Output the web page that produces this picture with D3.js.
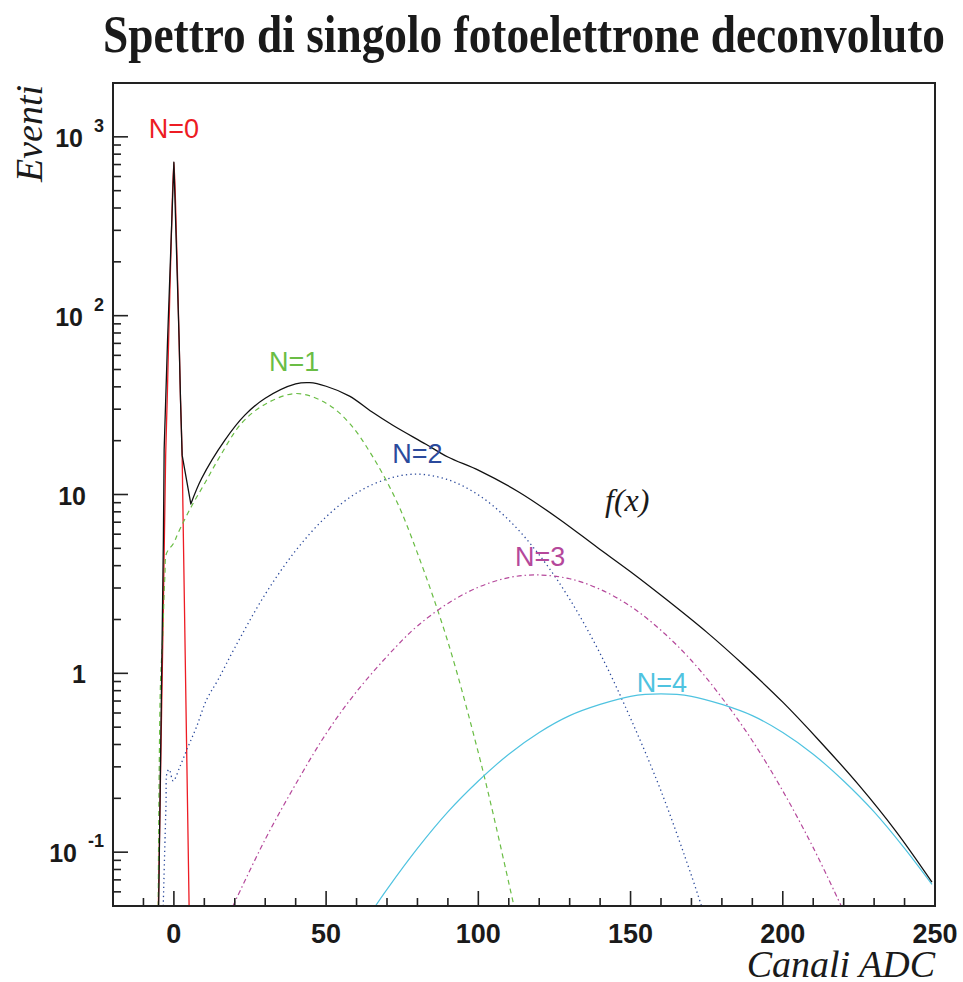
<!DOCTYPE html>
<html>
<head>
<meta charset="utf-8">
<script src="https://cdn.jsdelivr.net/npm/d3@7"></script>
<style>
  body { margin: 0; background: #fff; }
  .tick-label { font-family: "Liberation Sans", Arial, sans-serif; font-weight: bold; fill: #1a1a1a; }
  .comp-label { font-family: "Liberation Sans", Arial, sans-serif; font-size: 27px; }
  .serif-it { font-family: "Liberation Serif", "Times New Roman", serif; font-style: italic; fill: #1a1a1a; }
</style>
</head>
<body>
<div id="chart"></div>
<script>
// chart size
var svgWidth = 963;
var svgHeight = 982;

// plot frame in pixels
var frame = { left: 113, right: 935, top: 83, bottom: 906 };

// axis ticks
var xTickValues = [0, 50, 100, 150, 200, 250];
var yTickValues = [0.1, 1, 10, 100, 1000];
var yTickBase = ["10", "1", "10", "10", "10"];
var yTickExp = ["-1", "", "", "2", "3"];

// N=0 pedestal (red)
var n0X = [-5.1, -4.2, -3.6, -3.1, -2.7, -2.2, -1.72, -0.87, 0, 0.87, 1.72, 2.18, 2.71, 3.1, 3.6, 4.15, 5.0];
var n0Y = [0.05, 0.42, 1.7, 6, 16.6, 33.7, 73, 263, 721, 263, 73, 33.7, 16.6, 6, 1.7, 0.42, 0.05];

// N=1 (green, dashed)
var n1X = [-5.15, -4.83, -4.37, -3.72, -2.96, -2.4, -0.2, 1.4, 5.8, 10.2, 15, 22.2, 30, 40.2, 50, 57.7, 65, 73, 80, 90, 100, 105, 111.7];
var n1Y = [0.05, 0.28, 0.92, 1.54, 3.5, 4.7, 5.3, 6.1, 8.6, 11.6, 16.2, 25, 32, 36.7, 32.4, 25, 16.6, 9.3, 4.7, 1.5, 0.36, 0.16, 0.05];

// N=2 (blue, dotted)
var n2X = [-3.5, -2.6, -2.2, -1.54, -0.23, 1.95, 4.7, 7.4, 10.7, 14.5, 20, 30, 40, 50, 60, 70, 79.5, 90, 100, 110, 120, 130, 140, 150, 160, 170, 173.3];
var n2Y = [0.05, 0.18, 0.28, 0.29, 0.25, 0.30, 0.39, 0.50, 0.71, 0.92, 1.39, 2.77, 4.85, 7.5, 10.2, 12.2, 13, 12.1, 9.95, 7.2, 4.6, 2.6, 1.29, 0.56, 0.22, 0.074, 0.05];

// N=3 (magenta, dash-dot)
var n3X = [19.4, 30, 40, 50, 60, 73, 80, 90, 100, 110, 119.3, 130, 140, 150, 160, 170, 180, 190, 200, 210, 219.2];
var n3Y = [0.05, 0.118, 0.24, 0.46, 0.79, 1.41, 1.84, 2.46, 3.03, 3.43, 3.55, 3.38, 2.95, 2.37, 1.74, 1.18, 0.73, 0.42, 0.22, 0.106, 0.05];

// N=4 (cyan)
var n4X = [66.2, 70, 80, 90, 100, 110, 120, 130, 140, 150, 160, 170, 180, 190, 200, 210, 220, 230, 240, 249];
var n4Y = [0.05, 0.062, 0.105, 0.168, 0.25, 0.353, 0.467, 0.58, 0.67, 0.744, 0.767, 0.744, 0.67, 0.58, 0.467, 0.353, 0.25, 0.168, 0.105, 0.066];

// total f(x) (black); the first points around the pedestal are joined by straight segments
var fX = [-5.0, -3.45, -3.2, -2.08, 0, 1.72, 2.18, 2.71, 5.56, 9.1, 16.7, 23.3, 30, 40, 44.6, 50, 57.7, 65, 71.9, 82.8, 90, 100.3, 113.4, 126.5, 139, 150, 162, 175, 187, 200, 212, 225, 237, 249];
var fY = [0.05, 5.6, 17.8, 73, 721, 73, 33.7, 16.6, 8.85, 12.3, 20.1, 27.8, 34.5, 41.5, 42.2, 40.3, 35.5, 29, 24.4, 19.1, 16.2, 13.6, 10.3, 7.3, 5.07, 3.7, 2.57, 1.7, 1.12, 0.69, 0.42, 0.237, 0.132, 0.068];
var fLinearUntil = 8;

var series = [
  { name: "N=0", xs: n0X, ys: n0Y, color: "#ed1c24", dash: null, width: 1.3 },
  { name: "N=1", xs: n1X, ys: n1Y, color: "#6abd45", dash: "5,4", width: 1.2 },
  { name: "N=2", xs: n2X, ys: n2Y, color: "#2b4a9c", dash: "1.3,3.2", width: 1.3 },
  { name: "N=3", xs: n3X, ys: n3Y, color: "#b5489b", dash: "5,3,1.5,3", width: 1.2 },
  { name: "N=4", xs: n4X, ys: n4Y, color: "#4fc3e0", dash: null, width: 1.2 }
];

// component labels
var labelText = ["N=0", "N=1", "N=2", "N=3", "N=4"];
var labelX = [0, 39.5, 80, 120.3, 160.3];
var labelY = [990, 49, 15, 4.0, 0.79];
var labelColor = ["#ed1c24", "#6abd45", "#2b4a9c", "#b5489b", "#4fc3e0"];

var svg = d3.select("#chart")
  .append("svg")
  .attr("width", svgWidth)
  .attr("height", svgHeight);

svg.append("rect").attr("width", svgWidth).attr("height", svgHeight).attr("fill", "#fff");

var xScale = d3.scaleLinear().domain([-20, 250]).range([frame.left, frame.right]);
var yScale = d3.scaleLog().domain([0.05, 2000]).range([frame.bottom, frame.top]);

// clip
svg.append("clipPath").attr("id", "plotClip")
  .append("rect")
  .attr("x", frame.left).attr("y", frame.top)
  .attr("width", frame.right - frame.left)
  .attr("height", frame.bottom - frame.top);

// curves
var smooth = d3.line()
  .x(d => xScale(d[0]))
  .y(d => yScale(d[1]))
  .curve(d3.curveCatmullRom.alpha(0.5));
var straight = d3.line()
  .x(d => xScale(d[0]))
  .y(d => yScale(d[1]));

var curves = svg.append("g").attr("clip-path", "url(#plotClip)");
series.forEach(s => {
  var pts = s.xs.map((x, i) => [x, s.ys[i]]);
  curves.append("path")
    .datum(pts)
    .attr("d", smooth)
    .attr("fill", "none")
    .attr("stroke", s.color)
    .attr("stroke-width", s.width)
    .attr("stroke-dasharray", s.dash);
});

// f(x): straight near the pedestal, smooth afterwards
var fPts = fX.map((x, i) => [x, fY[i]]);
var fPath = straight(fPts.slice(0, fLinearUntil + 1)) + smooth(fPts.slice(fLinearUntil)).replace(/^M/, "L");
curves.append("path")
  .attr("d", fPath)
  .attr("fill", "none")
  .attr("stroke", "#111")
  .attr("stroke-width", 1.3)
  .attr("stroke-linejoin", "round");

// x axis ticks (inside, upward)
var xMinor = d3.range(-10, 251, 10).filter(v => xTickValues.indexOf(v) < 0);
var ticks = svg.append("g").attr("stroke", "#222").attr("stroke-width", 1.6);
xMinor.forEach(v => {
  ticks.append("line")
    .attr("x1", xScale(v)).attr("x2", xScale(v))
    .attr("y1", frame.bottom).attr("y2", frame.bottom - 8);
});
xTickValues.forEach(v => {
  ticks.append("line")
    .attr("x1", xScale(v)).attr("x2", xScale(v))
    .attr("y1", frame.bottom).attr("y2", frame.bottom - 15);
});

// y axis ticks (inside, rightward)
var yAll = yScale.ticks().filter(v => v >= 0.05 && v <= 2000);
yAll.forEach(v => {
  var major = yTickValues.indexOf(v) >= 0;
  ticks.append("line")
    .attr("x1", frame.left).attr("x2", frame.left + (major ? 15 : 8))
    .attr("y1", yScale(v)).attr("y2", yScale(v));
});

// frame
svg.append("rect")
  .attr("x", frame.left).attr("y", frame.top)
  .attr("width", frame.right - frame.left)
  .attr("height", frame.bottom - frame.top)
  .attr("fill", "none")
  .attr("stroke", "#222")
  .attr("stroke-width", 2);

// x tick labels
svg.append("g").selectAll("text")
  .data(xTickValues)
  .enter()
  .append("text")
  .attr("class", "tick-label")
  .style("font-size", "27px")
  .attr("x", d => xScale(d))
  .attr("y", 943)
  .attr("text-anchor", "middle")
  .text(d => d);

// y tick labels
yTickValues.forEach((v, i) => {
  var y = yScale(v) + 10;
  var t = svg.append("text")
    .attr("class", "tick-label")
    .style("font-size", "25px")
    .attr("text-anchor", "end");
  if (yTickExp[i] === "") {
    t.attr("x", 86).attr("y", y).text(yTickBase[i]);
  } else {
    t.attr("x", 104).attr("y", y);
    t.append("tspan").text(yTickBase[i]);
    t.append("tspan")
      .attr("dx", 11).attr("dy", -15)
      .style("font-size", "18px")
      .text(yTickExp[i]);
  }
});

// component labels
labelText.forEach((txt, i) => {
  svg.append("text")
    .attr("class", "comp-label")
    .attr("x", xScale(labelX[i]))
    .attr("y", yScale(labelY[i]))
    .attr("text-anchor", "middle")
    .attr("fill", labelColor[i])
    .text(txt);
});

// f(x) label
svg.append("text")
  .attr("class", "serif-it")
  .attr("x", 605).attr("y", 511)
  .style("font-size", "32px")
  .text("f(x)");

// title
svg.append("text")
  .attr("x", 524).attr("y", 52)
  .attr("text-anchor", "middle")
  .attr("textLength", 842)
  .attr("lengthAdjust", "spacingAndGlyphs")
  .style("font-family", "'Liberation Serif', 'Times New Roman', serif")
  .style("font-weight", "bold")
  .style("font-size", "52px")
  .attr("fill", "#1a1a1a")
  .text("Spettro di singolo fotoelettrone deconvoluto");

// axis titles
svg.append("text")
  .attr("class", "serif-it")
  .attr("x", 935).attr("y", 977)
  .attr("text-anchor", "end")
  .style("font-size", "38px")
  .text("Canali ADC");

svg.append("text")
  .attr("class", "serif-it")
  .attr("transform", "translate(42, 85) rotate(-90)")
  .attr("text-anchor", "end")
  .style("font-size", "38px")
  .text("Eventi");
</script>
</body>
</html>
